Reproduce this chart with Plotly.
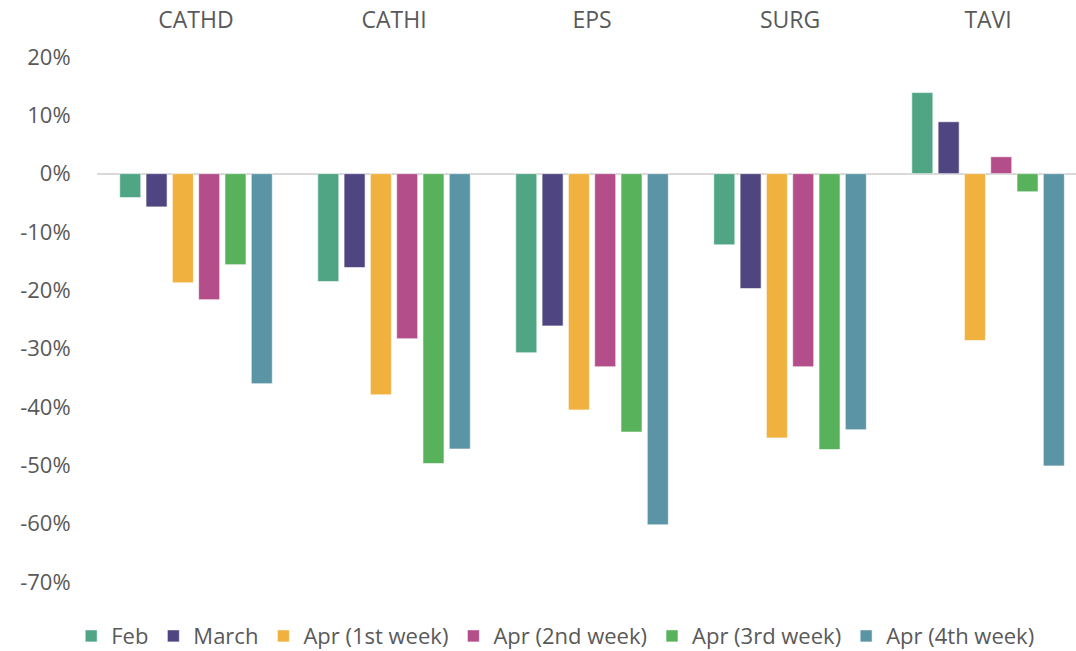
import plotly.graph_objects as go

categories = ["CATHD", "CATHI", "EPS", "SURG", "TAVI"]
series_names = ["Feb", "March", "Apr (1st week)", "Apr (2nd week)", "Apr (3rd week)", "Apr (4th week)"]
feb = [-4.1, -18.5, -30.7, -12.2, 13.9]
march = [-5.7, -16.1, -26.1, -19.7, 8.9]
apr_w1 = [-18.7, -37.9, -40.5, -45.3, -28.6]
apr_w2 = [-21.6, -28.3, -33.1, -33.1, 2.9]
apr_w3 = [-15.6, -49.7, -44.3, -47.3, -3.1]
apr_w4 = [-36.0, -47.2, -60.2, -43.9, -50.1]
series_values = [feb, march, apr_w1, apr_w2, apr_w3, apr_w4]
colors = ["#4fa584", "#4f4580", "#f0b13f", "#b34e8a", "#58b15b", "#5b95a5"]
y_ticks = [20, 10, 0, -10, -20, -30, -40, -50, -60, -70]

FONT = "Open Sans"
TXT = "#595959"

fig = go.Figure()
for name, vals, col in zip(series_names, series_values, colors):
    fig.add_trace(go.Bar(
        x=list(range(len(categories))), y=vals, name=name,
        marker=dict(color=col, line=dict(color="rgba(255,255,255,0.6)", width=1)),
    ))

fig.update_layout(
    width=1076, height=651,
    paper_bgcolor="white", plot_bgcolor="white",
    margin=dict(l=97, r=0, t=57, b=69, autoexpand=False),
    barmode="group", bargap=0.203, bargroupgap=0.2,
    font=dict(family=FONT, size=22, color=TXT),
    showlegend=True,
    legend=dict(orientation="h",
                x=0.468, xanchor="center", y=-0.103, yanchor="middle",
                font=dict(family=FONT, size=22, color=TXT),
                itemwidth=30, tracegroupgap=0, traceorder="normal"),
)
fig.update_xaxes(
    side="top", tickmode="array", tickvals=list(range(len(categories))),
    ticktext=categories, range=[-0.5, 4.444], automargin=False,
    showgrid=False, zeroline=False, showline=False,
    ticks="outside", ticklen=19, tickcolor="rgba(0,0,0,0)",
    tickfont=dict(family=FONT, size=23, color=TXT),
)
fig.update_yaxes(
    range=[-70, 20], tickmode="array", tickvals=y_ticks,
    ticktext=[f"{v}%" for v in y_ticks], automargin=False,
    showgrid=False, zeroline=True, zerolinecolor="#d9d9d9", zerolinewidth=2,
    showline=False, ticks="outside", ticklen=21, tickcolor="rgba(0,0,0,0)",
    tickfont=dict(family=FONT, size=22, color=TXT),
)

fig.write_html(
    "out.html",
    config={"displayModeBar": False},
    post_script="document.body.style.margin='0';document.body.style.padding='0';document.body.style.overflow='hidden';",
)
